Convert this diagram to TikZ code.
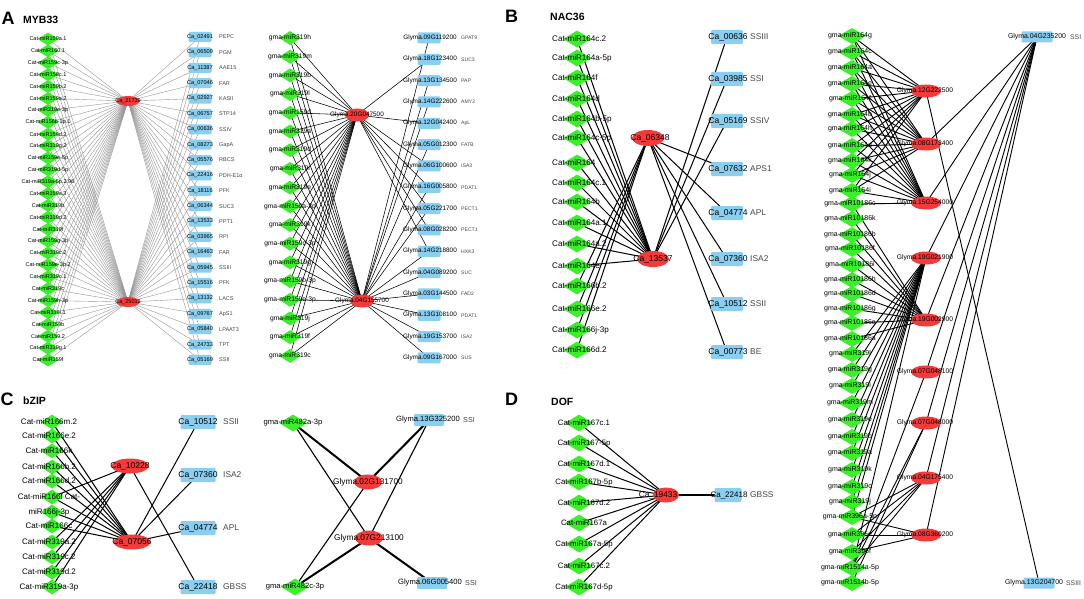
\documentclass[tikz,border=0pt]{standalone}
\usepackage{fontspec}
\setmainfont{Liberation Sans}
\usetikzlibrary{shapes.geometric}
\pgfdeclarelayer{canvas}
\pgfdeclarelayer{bg}
\pgfsetlayers{canvas,bg,main}
\definecolor{mirgreen}{RGB}{58,240,40}
\definecolor{tfred}{RGB}{245,58,58}
\definecolor{tgtblue}{RGB}{138,206,240}
\definecolor{anngray}{RGB}{70,70,70}
\definecolor{edgegray}{RGB}{150,150,150}
\newcommand{\myfs}[1]{\fontsize{#1}{#1}\selectfont}
\tikzset{
  mir/.style={diamond, fill=mirgreen, draw=none, inner sep=0pt},
  tf/.style={ellipse, fill=tfred, draw=none, inner sep=0pt},
  tgt/.style={rectangle, rounded corners=1.2pt, fill=tgtblue, draw=none, inner sep=0pt},
  lab/.style={inner sep=0pt, text=black},
  ann/.style={inner sep=0pt, anchor=west, text=anngray},
  ttl/.style={inner sep=0pt, anchor=base west, font=\bfseries\myfs{18}},
  sub/.style={inner sep=0pt, anchor=base west, font=\bfseries\myfs{10.5}},
  eA/.style={draw=edgegray, line width=0.4pt},
  eB/.style={draw=black, line width=0.55pt},
  eC/.style={draw=black, line width=1pt},
  eD/.style={draw=black, line width=0.9pt},
  eThick/.style={draw=black, line width=2pt},
  eThin/.style={draw=black, line width=1.1pt},
}
\begin{document}
\begin{tikzpicture}[x=1pt,y=-1pt]
\useasboundingbox (0,0) rectangle (1084,599);
\begin{pgfonlayer}{canvas}
\fill[white] (0,0) rectangle (1084,599);
\end{pgfonlayer}

% titles
\node[ttl] (tA) at (1.5,25) {A};
\node[sub] (tA2) at (23,24) {MYB33};
\node[ttl] (tB) at (505,23) {B};
\node[sub] (tB2) at (550,21) {NAC36};
\node[ttl] (tC) at (0.5,405) {C};
\node[sub] (tC2) at (23,404) {bZIP};
\node[ttl] (tD) at (505,405) {D};
\node[sub] (tD2) at (551,405) {DOF};

% ================= Panel A left =================
\foreach \t [count=\i] in {Cat-miR159a.1,Cat-miR160.1,Cat-miR159c-3p,Cat-miR158c.1,Cat-miR159b.2,Cat-miR159a.2,Cat-miR319e-3p,Cat-miR156b-3p.1,Cat-miR159d.2,Cat-miR319g.2,Cat-miR159e-5p,Cat-miR319d-5p,Cat-miR319a-5p.2.96,Cat-miR159a.3,Cat-miR319b,Cat-miR319d.2,Cat-miR319f,Cat-miR159g-3p,Cat-miR319c.2,Cat-miR159e-3p.2,Cat-miR319c.1,Cat-miR319c,Cat-miR159h-3p,Cat-miR319i.1,Cat-miR159b,Cat-miR159.2,Cat-miR319g.1,Cat-miR159f}{
  \pgfmathsetmacro\yy{39+(\i-1)*11.89}
  \node[mir, minimum width=21pt, minimum height=13pt] (aL\i) at (48,\yy) {};
  \node[lab, font=\myfs{5.5}] (aLt\i) at (48,\yy) {\t};
}
\node[tf, minimum width=23pt, minimum height=10pt] (aR1) at (128,101) {};
\node[lab, font=\myfs{5.5}] (aRt1) at (128,101) {Ca\_21739};
\node[tf, minimum width=23pt, minimum height=10pt] (aR2) at (128,302) {};
\node[lab, font=\myfs{5.5}] (aRt2) at (128,302) {Ca\_25013};
\foreach \nm/\an [count=\i] in {Ca\_02491/PEPC,Ca\_06509/PGM,Ca\_11387/AAE15,Ca\_07046/FAR,Ca\_02927/KASII,Ca\_06757/STP14,Ca\_00636/SSIV,Ca\_08273/GapA,Ca\_05576/RBCS,Ca\_22416/PDH-E1α,Ca\_18116/PFK,Ca\_06344/SUC3,Ca\_13533/PPT1,Ca\_03965/RPI,Ca\_16463/FAR,Ca\_05945/SSIII,Ca\_15516/PFK,Ca\_13132/LACS,Ca\_09767/ApS1,Ca\_05840/LPAAT3,Ca\_24733/TPT,Ca\_05169/SSII}{
  \pgfmathsetmacro\yy{37+(\i-1)*15.38}
  \node[tgt, minimum width=23pt, minimum height=10pt] (aT\i) at (200,\yy) {};
  \node[lab, font=\myfs{5.6}] (aTt\i) at (200,\yy) {\nm};
  \node[ann, font=\myfs{5.5}] (aTa\i) at (219,\yy) {\an};
}

% ================= Panel A right =================
\foreach \t [count=\i] in {gma-miR319h,gma-miR319m,gma-miR319b,gma-miR319l,gma-miR159d,gma-miR319a,gma-miR319d,gma-miR319i,gma-miR319e,gma-miR159a-3p,gma-miR319k,gma-miR159c-3p,gma-miR319g,gma-miR159b-3p,gma-miR159e-3p,gma-miR319j,gma-miR319f,gma-miR319c}{
  \pgfmathsetmacro\yy{38+(\i-1)*18.7}
  \node[mir, minimum width=22pt, minimum height=14pt] (bL\i) at (290,\yy) {};
  \node[lab, font=\myfs{6.7}] (bLt\i) at (290,\yy) {\t};
}
\node[tf, minimum width=24pt, minimum height=13pt] (bR1) at (357,115) {};
\node[lab, font=\myfs{6.4}] (bRt1) at (357,115) {Glyma.20G047500};
\node[tf, minimum width=24pt, minimum height=13pt] (bR2) at (362,301) {};
\node[lab, font=\myfs{6.4}] (bRt2) at (362,301) {Glyma.04G155700};
\foreach \nm/\an [count=\i] in {Glyma.09G119200/GPAT9,Glyma.18G123400/SUC3,Glyma.13G134500/PAP,Glyma.14G222600/AMY2,Glyma.12G042400/ApL,Glyma.05G012300/FATB,Glyma.06G100600/ISA3,Glyma.16G005800/PDAT1,Glyma.05G221700/PECT1,Glyma.08G028200/PECT1,Glyma.14G218800/HXK3,Glyma.04G089200/SUC,Glyma.03G144500/FAD2,Glyma.13G108100/PDAT1,Glyma.19G153700/ISA2,Glyma.09G167000/SUS}{
  \pgfmathsetmacro\yy{38+(\i-1)*21.33}
  \node[tgt, minimum width=23pt, minimum height=11pt] (bT\i) at (429,\yy) {};
  \node[lab, font=\myfs{6.4}] (bTt\i) at (430,\yy) {\nm};
  \node[ann, font=\myfs{5.1}] (bTa\i) at (461,\yy) {\an};
}

% ================= Panel B left =================
\foreach \y/\t [count=\i] in {39/Cat-miR164c.2,58/Cat-miR164a-5p,78/Cat-miR164f,99/Cat-miR164d,119/Cat-miR164b-5p,138/Cat-miR164c-5p,163/Cat-miR164,183/Cat-miR164c.1,202/Cat-miR164b,223/Cat-miR164a.1,244/Cat-miR164a.2,266/Cat-miR164e,286/Cat-miR166b.2,309/Cat-miR166e.2,330/Cat-miR166j-3p,350/Cat-miR166d.2}{
  \node[mir, minimum width=28pt, minimum height=17pt] (cL\i) at (577,\y) {};
  \node[lab, anchor=west, font=\myfs{8.1}] (cLt\i) at (552,\y) {\t};
}
\node[tf, minimum width=32pt, minimum height=16pt] (cR1) at (648,138) {};
\node[lab, font=\myfs{8.5}] (cRt1) at (650,138) {Ca\_06348};
\node[tf, minimum width=32pt, minimum height=16pt] (cR2) at (653,259) {};
\node[lab, font=\myfs{8.5}] (cRt2) at (653,259) {Ca\_13537};
\foreach \y/\nm/\an [count=\i] in {37/Ca\_00636/SSIII,79/Ca\_03985/SSI,121/Ca\_05169/SSIV,169/Ca\_07632/APS1,213/Ca\_04774/APL,259/Ca\_07360/ISA2,304/Ca\_10512/SSII,352/Ca\_00773/BE}{
  \node[tgt, minimum width=32pt, minimum height=14pt] (cT\i) at (727,\y) {};
  \node[lab, font=\myfs{8.5}] (cTt\i) at (728,\y) {\nm};
  \node[ann, font=\myfs{8.4}] (cTa\i) at (750,\y) {\an};
}

% ================= Panel B right =================
\foreach \y/\t [count=\i] in {36/gma-miR164g,52/gma-miR164c,68/gma-miR164a,84/gma-miR164e,99/gma-miR164f,115/gma-miR164b,129/gma-miR164h,146/gma-miR164d,161/gma-miR164k,175/gma-miR164j,191/gma-miR164i,204/gma-miR10186c,219/gma-miR10186k,235/gma-miR10186b,249/gma-miR10186f,265/gma-miR10186i,280/gma-miR10186h,294/gma-miR10186d,309/gma-miR10186g,323/gma-miR10186e,339/gma-miR10186a,354/gma-miR319l,370/gma-miR319g,386/gma-miR319i,403/gma-miR319m,420/gma-miR319e,437/gma-miR319b,453/gma-miR319a,470/gma-miR319k,487/gma-miR319c,502/gma-miR319j,517/gma-miR396a-5p,535/gma-miR396e,552/gma-miR396f,568/gma-miR1514a-5p,583/gma-miR1514b-5p}{
  \node[mir, minimum width=28pt, minimum height=16pt] (dL\i) at (852,\y) {};
  \node[lab, font=\myfs{7}] (dLt\i) at (850,\y) {\t};
}
\foreach \y/\t [count=\i] in {91/Glyma.12G222500,144/Glyma.08G173400,203/Glyma.15G254000,258/Glyma.19G021900,320/Glyma.19G002900,372/Glyma.07G048100,423/Glyma.07G048000,478/Glyma.04G175400,535/Glyma.08G360200}{
  \node[tf, minimum width=30pt, minimum height=13pt] (dR\i) at (926,\y) {};
  \node[lab, font=\myfs{6.7}] (dRt\i) at (925,\y) {\t};
}
\node[tgt, minimum width=31pt, minimum height=11pt] (dT1) at (1037,37) {};
\node[lab, font=\myfs{6.9}] (dTt1) at (1037,37) {Glyma.04G235200};
\node[ann, font=\myfs{6.8}] (dTa1) at (1070,37) {SSI};
\node[tgt, minimum width=31pt, minimum height=11pt] (dT2) at (1039,583) {};
\node[lab, font=\myfs{6.9}] (dTt2) at (1034,583) {Glyma.13G204700};
\node[ann, font=\myfs{6.8}] (dTa2) at (1066,583) {SSIII};

% ================= Panel C left =================
\foreach \y/\t [count=\i] in {422/Cat-miR166m.2,436/Cat-miR166e.2,451/Cat-miR166k,467/Cat-miR166b.2,481/Cat-miR166d.2,497/Cat-miR166f Cat-,512/miR166j-3p,526/Cat-miR166c,542/Cat-miR319a.2,557/Cat-miR319c.2,572/Cat-miR319d.2,587/Cat-miR319a-3p}{
  \node[mir, minimum width=22pt, minimum height=15pt] (eL\i) at (52,\y) {};
  \node[lab, font=\myfs{8}] (eLt\i) at (49,\y) {\t};
}
\node[tf, minimum width=37pt, minimum height=15pt] (eR1) at (130,466) {};
\node[lab, font=\myfs{8.5}] (eRt1) at (130,466) {Ca\_10228};
\node[tf, minimum width=37pt, minimum height=15pt] (eR2) at (132,542) {};
\node[lab, font=\myfs{8.5}] (eRt2) at (132,542) {Ca\_07056};
\foreach \y/\nm/\an [count=\i] in {422/Ca\_10512/SSII,475/Ca\_07360/ISA2,528/Ca\_04774/APL,587/Ca\_22418/GBSS}{
  \node[tgt, minimum width=35pt, minimum height=14pt] (eT\i) at (198,\y) {};
  \node[lab, font=\myfs{8.5}] (eTt\i) at (198,\y) {\nm};
  \node[ann, font=\myfs{8.4}] (eTa\i) at (223,\y) {\an};
}

% ================= Panel C right =================
\node[mir, minimum width=28pt, minimum height=17pt] (fL1) at (293,423) {};
\node[lab, font=\myfs{7.6}] (fLt1) at (293,423) {gma-miR482a-3p};
\node[mir, minimum width=28pt, minimum height=17pt] (fL2) at (295,587) {};
\node[lab, font=\myfs{7.6}] (fLt2) at (295,587) {gma-miR482c-3p};
\node[tf, minimum width=28pt, minimum height=15pt] (fR1) at (368,482) {};
\node[lab, font=\myfs{8.3}] (fRt1) at (368,482) {Glyma.02G131700};
\node[tf, minimum width=28pt, minimum height=15pt] (fR2) at (369,538) {};
\node[lab, font=\myfs{8.3}] (fRt2) at (369,538) {Glyma.07G213100};
\node[tgt, minimum width=30pt, minimum height=12pt] (fT1) at (429,420) {};
\node[lab, font=\myfs{7.6}] (fTt1) at (428,420) {Glyma.13G325200};
\node[ann, font=\myfs{7.2}] (fTa1) at (463,420) {SSI};
\node[tgt, minimum width=30pt, minimum height=12pt] (fT2) at (432,583) {};
\node[lab, font=\myfs{7.6}] (fTt2) at (430,583) {Glyma.06G005400};
\node[ann, font=\myfs{7.2}] (fTa2) at (465,583) {SSI};

% ================= Panel D =================
\foreach \y/\t [count=\i] in {423/Cat-miR167c.1,443/Cat-miR167-5p,464/Cat-miR167d.1,482/Cat-miR167b-5p,503/Cat-miR167d.2,523/Cat-miR167a,544/Cat-miR167a-5p,566/Cat-miR167c.2,587/Cat-miR167d-5p}{
  \node[mir, minimum width=28pt, minimum height=17pt] (gL\i) at (579,\y) {};
  \node[lab, font=\myfs{7.8}] (gLt\i) at (584,\y) {\t};
}
\node[tf, minimum width=26pt, minimum height=15pt] (gR1) at (666,495) {};
\node[lab, font=\myfs{8.3}] (gRt1) at (658,495) {Ca\_19433};
\node[tgt, minimum width=27pt, minimum height=14pt] (gT1) at (728,495) {};
\node[lab, font=\myfs{8}] (gTt1) at (729,495) {Ca\_22418};
\node[ann, font=\myfs{8.4}] (gTa1) at (750,495) {GBSS};

% ================= Edges =================
\begin{pgfonlayer}{bg}
% A left
\foreach \r in {1,2}{
  \foreach \i in {1,...,28}{\draw[eA] (aR\r.center) -- (aL\i.center);}
  \foreach \i in {1,...,22}{\draw[eA] (aR\r.center) -- (aT\i.center);}
}
% A right
\foreach \r in {1,2}{
  \foreach \i in {1,...,18}{\draw[eB] (bR\r.center) -- (bL\i.center);}
}
\foreach \i in {2,5,7,8,9,10,11}{\draw[eB] (bR1.center) -- (bT\i.center);}
\foreach \i in {1,3,4,6,8,9,11,12,13,14,15,16}{\draw[eB] (bR2.center) -- (bT\i.center);}
% B left
\foreach \i in {1,...,12}{\draw[eC] (cR2.center) -- (cL\i.center);}
\foreach \i in {13,...,16}{\draw[eC] (cR1.center) -- (cL\i.center);}
\foreach \i in {4,...,8}{\draw[eC] (cR1.center) -- (cT\i.center);}
\foreach \i in {1,2,3}{\draw[eC] (cR2.center) -- (cT\i.center);}
% B right
\foreach \r in {1,2,3}{
  \foreach \i in {1,...,11}{\draw[eD] (dR\r.center) -- (dL\i.center);}
}
\draw[eD] (dR3.center) -- (dL12.center);
\foreach \i in {12,...,21}{\draw[eD] (dR5.center) -- (dL\i.center);}
\foreach \i in {22,...,32,35}{\draw[eD] (dR4.center) -- (dL\i.center);}
\draw[eD] (dR6.center) -- (dL35.center);
\foreach \i in {35,36}{\draw[eD] (dR7.center) -- (dL\i.center);}
\foreach \i in {32,33,34,35}{\draw[eD] (dR8.center) -- (dL\i.center);}
\foreach \i in {32,33,34}{\draw[eD] (dR9.center) -- (dL\i.center);}
\foreach \r in {2,...,9}{\draw[eD] (dT1.center) -- (dR\r.center);}
\draw[eD] (dR1.center) -- (dT2.center);
% C left
\foreach \i in {1,...,8}{\draw[eC] (eR2.center) -- (eL\i.center);}
\foreach \i in {6,9,10,11,12}{\draw[eC] (eR1.center) -- (eL\i.center);}
\foreach \i in {1,2,3}{\draw[eC] (eR2.center) -- (eT\i.center);}
\draw[eC] (eR1.center) -- (eT4.center);
% C right
\draw[eThick] (fL1.center) -- (fR1.center);
\draw[eThick] (fR1.center) -- (fT1.center);
\draw[eThick] (fR2.center) -- (fL2.center);
\draw[eThick] (fR2.center) -- (fT2.center);
\draw[eThin] (fL1.center) -- (fR2.center);
\draw[eThin] (fT1.center) -- (fR2.center);
\draw[eThin] (fR1.center) -- (fL2.center);
% D
\foreach \i in {1,...,9}{\draw[eC] (gR1.center) -- (gL\i.center);}
\draw[line width=1.5pt] (gR1.center) -- (gT1.center);
\end{pgfonlayer}
\end{tikzpicture}
\end{document}
